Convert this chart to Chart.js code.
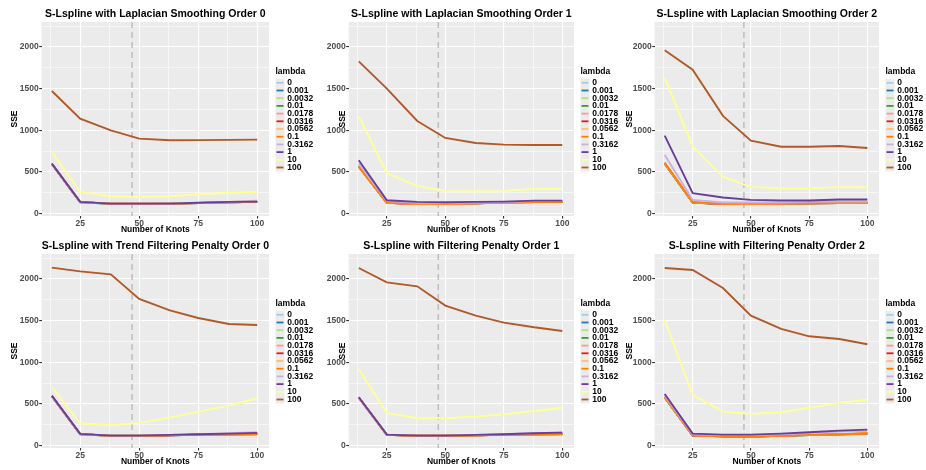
<!DOCTYPE html>
<html>
<head>
<meta charset="utf-8">
<script src="https://cdn.jsdelivr.net/npm/chart.js@4/dist/chart.umd.min.js"></script>
<style>
  html, body { margin: 0; padding: 0; background: #fff; }
  #wrap { position: relative; width: 926px; height: 470px; overflow: hidden; }
  #wrap canvas { position: absolute; display: block; }
</style>
</head>
<body>
<div id="wrap">
  <canvas id="p0" width="320" height="238" style="left:0;top:0"></canvas>
  <canvas id="p1" width="320" height="238" style="left:307px;top:0"></canvas>
  <canvas id="p2" width="313" height="238" style="left:613px;top:0"></canvas>
  <canvas id="p3" width="320" height="238" style="left:0;top:231.5px"></canvas>
  <canvas id="p4" width="320" height="238" style="left:307px;top:231.5px"></canvas>
  <canvas id="p5" width="313" height="238" style="left:613px;top:231.5px"></canvas>
</div>
<script>
const FONT = '"Liberation Sans", Arial, sans-serif';

const LAMBDAS = ['0', '0.001', '0.0032', '0.01', '0.0178', '0.0316', '0.0562', '0.1', '0.3162', '1', '10', '100'];
const COLORS = ['#A6CEE3', '#1F78B4', '#B2DF8A', '#33A02C', '#FB9A99', '#E31A1C',
                '#FDBF6F', '#FF7F00', '#CAB2D6', '#6A3D9A', '#FFFF99', '#B15928'];
const KNOTS = [13, 25, 38, 50, 63, 75, 88, 100];
const CUTOFF_KNOTS = 47;

// grid positions (major ones get a label)
const X_GRID = [12.5, 25, 37.5, 50, 62.5, 75, 87.5, 100];
const X_LABELS = [25, 50, 75, 100];
const Y_GRID = [0, 250, 500, 750, 1000, 1250, 1500, 1750, 2000, 2250];
const Y_LABELS = [0, 500, 1000, 1500, 2000];

// one row per lambda, same order as LAMBDAS
const LAPLACE_0 = [
  [596, 136, 118, 117, 118, 126, 134, 142],
  [596, 136, 118, 117, 118, 126, 134, 140],
  [597, 136, 118, 117, 118, 126, 134, 140],
  [597, 137, 118, 117, 119, 126, 134, 140],
  [598, 137, 119, 118, 119, 127, 135, 141],
  [598, 137, 119, 118, 119, 127, 135, 141],
  [599, 138, 119, 118, 120, 127, 135, 141],
  [599, 138, 120, 118, 120, 128, 136, 142],
  [600, 139, 120, 119, 121, 129, 140, 156],
  [600, 140, 120, 120, 120, 130, 140, 144],
  [740, 260, 208, 200, 208, 232, 248, 260],
  [1472, 1140, 1000, 900, 880, 882, 885, 888],
];
const LAPLACE_1 = [
  [572, 130, 116, 116, 124, 132, 140, 140],
  [570, 130, 116, 116, 124, 132, 140, 140],
  [568, 130, 116, 116, 124, 132, 140, 140],
  [566, 129, 116, 116, 123, 131, 139, 139],
  [564, 129, 115, 115, 123, 131, 139, 139],
  [562, 128, 115, 115, 123, 131, 138, 139],
  [560, 128, 115, 115, 122, 130, 138, 138],
  [562, 129, 116, 116, 123, 131, 138, 138],
  [600, 150, 130, 128, 132, 138, 150, 152],
  [640, 160, 140, 136, 140, 144, 156, 156],
  [1168, 484, 332, 272, 268, 272, 296, 296],
  [1828, 1500, 1112, 908, 848, 828, 824, 824],
];
const LAPLACE_2 = [
  [598, 132, 114, 114, 118, 122, 126, 130],
  [598, 132, 114, 114, 118, 122, 126, 130],
  [600, 133, 114, 114, 118, 122, 126, 130],
  [601, 133, 115, 114, 118, 122, 126, 130],
  [603, 134, 115, 115, 119, 123, 127, 131],
  [605, 134, 115, 115, 119, 123, 127, 131],
  [608, 135, 116, 115, 119, 123, 127, 131],
  [614, 137, 116, 116, 120, 124, 128, 132],
  [703, 165, 133, 133, 133, 141, 145, 145],
  [936, 245, 193, 165, 157, 157, 169, 169],
  [1630, 807, 442, 321, 301, 301, 321, 317],
  [1960, 1727, 1173, 875, 803, 803, 811, 787],
];
const TREND_0 = [
  [592, 136, 118, 118, 124, 130, 134, 136],
  [592, 136, 118, 118, 124, 130, 134, 136],
  [593, 136, 118, 118, 124, 130, 134, 137],
  [593, 137, 118, 118, 124, 130, 135, 137],
  [594, 137, 117, 115, 124, 131, 135, 138],
  [594, 137, 117, 115, 124, 131, 135, 138],
  [595, 138, 118, 118, 125, 131, 136, 138],
  [595, 138, 119, 119, 125, 132, 136, 139],
  [596, 138, 120, 120, 128, 138, 150, 160],
  [600, 140, 120, 120, 128, 136, 144, 152],
  [700, 268, 244, 272, 336, 408, 480, 568],
  [2136, 2092, 2056, 1760, 1624, 1532, 1460, 1448],
];
const FILTER_1 = [
  [576, 128, 118, 118, 122, 126, 134, 136],
  [576, 128, 118, 118, 122, 128, 134, 136],
  [577, 128, 118, 118, 122, 128, 134, 137],
  [577, 129, 118, 118, 123, 128, 135, 137],
  [578, 129, 118, 118, 123, 129, 135, 138],
  [578, 129, 118, 118, 123, 129, 135, 138],
  [579, 130, 119, 119, 124, 130, 136, 139],
  [579, 130, 119, 119, 124, 130, 136, 139],
  [578, 132, 120, 120, 128, 138, 150, 158],
  [580, 132, 120, 120, 128, 136, 148, 156],
  [920, 392, 328, 328, 348, 376, 416, 452],
  [2132, 1960, 1912, 1680, 1560, 1476, 1420, 1376],
];
const FILTER_2 = [
  [578, 120, 112, 108, 116, 126, 132, 136],
  [578, 120, 112, 108, 116, 126, 134, 140],
  [579, 120, 112, 108, 116, 127, 134, 142],
  [579, 121, 112, 108, 116, 127, 134, 144],
  [580, 121, 112, 108, 116, 128, 135, 146],
  [580, 121, 112, 108, 116, 128, 135, 146],
  [581, 122, 113, 109, 117, 128, 136, 148],
  [582, 122, 113, 109, 117, 128, 136, 148],
  [600, 135, 125, 125, 135, 150, 168, 176],
  [620, 144, 132, 132, 144, 160, 180, 192],
  [1508, 608, 408, 380, 400, 452, 512, 552],
  [2132, 2108, 1892, 1560, 1400, 1312, 1280, 1216],
];

const X_MIN = 8.7;
const X_MAX = 105;
const Y_MIN = -29;
const Y_MAX = 2300;

const PANELS = [
  { id: 'p0', title: 'S-Lspline with Laplacian Smoothing Order 0', values: LAPLACE_0, padRight: 51, yTitlePad: 9.9 },
  { id: 'p1', title: 'S-Lspline with Laplacian Smoothing Order 1', values: LAPLACE_1, padRight: 53, yTitlePad: 31 },
  { id: 'p2', title: 'S-Lspline with Laplacian Smoothing Order 2', values: LAPLACE_2, padRight: 47, yTitlePad: 12 },
  { id: 'p3', title: 'S-Lspline with Trend Filtering Penalty Order 0', values: TREND_0, padRight: 51, yTitlePad: 9.9 },
  { id: 'p4', title: 'S-Lspline with Filtering Penalty Order 1', values: FILTER_1, padRight: 53, yTitlePad: 31 },
  { id: 'p5', title: 'S-Lspline with Filtering Penalty Order 2', values: FILTER_2, padRight: 47, yTitlePad: 12 },
];

const panelBackground = {
  id: 'panelBackground',
  beforeDraw(chart) {
    const { ctx, chartArea: a } = chart;
    ctx.save();
    ctx.fillStyle = '#EBEBEB';
    ctx.fillRect(a.left, a.top, a.right - a.left, a.bottom - a.top);
    ctx.restore();
  },
};

const cutoffLine = {
  id: 'cutoffLine',
  beforeDatasetsDraw(chart) {
    const { ctx, chartArea: a, scales } = chart;
    const x = scales.x.getPixelForValue(CUTOFF_KNOTS);
    ctx.save();
    ctx.strokeStyle = '#BEBEBE';
    ctx.lineWidth = 1.5;
    ctx.setLineDash([6, 4]);
    ctx.beginPath();
    ctx.moveTo(x, a.top);
    ctx.lineTo(x, a.bottom);
    ctx.stroke();
    ctx.restore();
  },
};

const lambdaLegend = {
  id: 'lambdaLegend',
  afterDraw(chart) {
    const { ctx, chartArea: a } = chart;
    const x0 = a.right + 6.5;
    const mid = (a.top + a.bottom) / 2;
    const rowH = 7.7;
    const firstY = mid - 36.2;
    ctx.save();
    ctx.font = `bold 8.5px ${FONT}`;
    ctx.textBaseline = 'middle';
    ctx.fillStyle = '#000';
    ctx.fillText('lambda', x0, mid - 47);
    ctx.fillStyle = '#EBEBEB';
    ctx.fillRect(x0, firstY - rowH / 2, 9, rowH * LAMBDAS.length);
    LAMBDAS.forEach((lam, i) => {
      const y = firstY + i * rowH;
      ctx.strokeStyle = COLORS[i];
      ctx.lineWidth = 1.8;
      ctx.beginPath();
      ctx.moveTo(x0 + 1, y);
      ctx.lineTo(x0 + 8, y);
      ctx.stroke();
      ctx.fillStyle = '#000';
      ctx.fillText(lam, x0 + 11.7, y);
    });
    ctx.restore();
  },
};

const tickFont = { family: FONT, size: 8.5, weight: 'bold' };
const titleFont = { family: FONT, size: 8.5, weight: 'bold' };

function axisOptions(grid, labels, min, max) {
  const isMajor = (c) => c.tick && labels.includes(c.tick.value);
  return {
    type: 'linear',
    bounds: 'data',
    min,
    max,
    afterBuildTicks: (s) => { s.ticks = grid.map((v) => ({ value: v })); },
    border: { display: false },
    grid: {
      color: '#FFFFFF',
      lineWidth: (c) => (isMajor(c) ? 1.1 : 0.55),
      tickLength: 2.5,
      tickColor: (c) => (isMajor(c) ? '#333333' : 'rgba(0,0,0,0)'),
    },
    ticks: {
      autoSkip: false,
      maxRotation: 0,
      minRotation: 0,
      color: '#4D4D4D',
      font: tickFont,
      callback: (v) => (labels.includes(v) ? String(v) : ''),
    },
  };
}

function makeChart(panel) {
  const datasets = LAMBDAS.map((lam, i) => ({
    label: lam,
    data: KNOTS.map((k, j) => ({ x: k, y: panel.values[i][j] })),
    borderColor: COLORS[i],
    backgroundColor: COLORS[i],
    borderWidth: 1.9,
    pointRadius: 0,
    tension: 0,
    order: LAMBDAS.length - 1 - i,
  }));

  const x = axisOptions(X_GRID, X_LABELS, X_MIN, X_MAX);
  x.afterFit = (s) => { s.height = 22; };
  x.ticks.padding = 0;
  x.title = { display: true, text: 'Number of Knots', color: '#000', font: titleFont, padding: { top: 0, bottom: 3.2 } };

  const y = axisOptions(Y_GRID, Y_LABELS, Y_MIN, Y_MAX);
  y.afterFit = (s) => { s.width = 41.7; };
  y.ticks.padding = 0.5;
  y.title = { display: true, text: 'SSE', color: '#000', font: titleFont, padding: { top: panel.yTitlePad, bottom: 0 } };

  new Chart(document.getElementById(panel.id), {
    type: 'line',
    data: { datasets },
    options: {
      responsive: false,
      animation: false,
      events: [],
      layout: { padding: { left: 0, right: panel.padRight, top: 0, bottom: 0 } },
      plugins: {
        legend: { display: false },
        tooltip: { enabled: false },
        title: {
          display: true,
          text: panel.title,
          fullSize: false,
          color: '#000',
          font: { family: FONT, size: 10.5, weight: 'bold' },
          padding: { top: 7.7, bottom: 1.7 },
        },
      },
      scales: { x, y },
    },
    plugins: [panelBackground, cutoffLine, lambdaLegend],
  });
}

PANELS.forEach(makeChart);
</script>
</body>
</html>
